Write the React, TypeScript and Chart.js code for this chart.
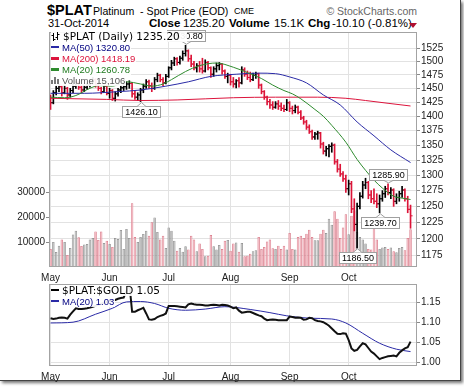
import React, { useEffect, useRef } from 'react';
import { Chart, registerables } from 'chart.js';

Chart.register(...registerables);

// ---------- data ----------
const monthIdx = [0, 21, 42, 64, 85, 106];
const monthLabels = ['May', 'Jun', 'Jul', 'Aug', 'Sep', 'Oct'];
const priceTicks = [1175, 1200, 1225, 1250, 1275, 1300, 1325, 1350, 1375, 1400, 1425, 1450, 1475, 1500, 1525];
const volumeTicks = [10000, 20000, 30000];
const ratioTicks = [1.0, 1.05, 1.1, 1.15];

const prevClose = 1436;
const opens = [
  1436, 1424, 1442, 1450, 1453, 1442, 1450, 1438, 1446, 1454,
  1460, 1452, 1447, 1452, 1456, 1462, 1466, 1456, 1450, 1444,
  1454, 1441, 1446, 1432, 1440, 1447, 1451, 1453, 1458, 1459,
  1440, 1434, 1438, 1447, 1454, 1462, 1455, 1450, 1466, 1474,
  1466, 1460, 1472, 1488, 1497, 1505, 1498, 1506, 1515, 1520,
  1505, 1495, 1488, 1492, 1486, 1482, 1498, 1488, 1476, 1486,
  1492, 1495, 1482, 1472, 1474, 1462, 1458, 1464, 1460, 1484,
  1476, 1470, 1466, 1474, 1477, 1456, 1444, 1434, 1426, 1420,
  1416, 1422, 1418, 1414, 1412, 1424, 1414, 1410, 1416, 1407,
  1397, 1390, 1381, 1373, 1364, 1369, 1371, 1352, 1340, 1344,
  1348, 1350, 1322, 1310, 1302, 1294, 1278, 1286, 1246, 1222,
  1250, 1266, 1284, 1288, 1268, 1262, 1258, 1254, 1262, 1270,
  1278, 1272, 1276, 1258, 1264, 1270, 1276, 1262, 1245.3,
];
const highs = [
  1438, 1446, 1456, 1458, 1455, 1456, 1452, 1450, 1458, 1464,
  1463, 1455, 1456, 1460, 1466, 1470, 1468, 1460, 1452, 1456,
  1456, 1450, 1448, 1444, 1450, 1455, 1458, 1462, 1464, 1461,
  1446, 1442, 1450, 1458, 1466, 1465, 1460, 1470, 1478, 1476,
  1470, 1476, 1490, 1502, 1508, 1507, 1510, 1520, 1530.8, 1522,
  1512, 1500, 1496, 1500, 1506, 1503, 1500, 1490, 1490, 1497,
  1498, 1496, 1484, 1478, 1476, 1470, 1466, 1470, 1490, 1488,
  1482, 1480, 1478, 1480, 1478, 1458, 1446, 1436, 1430, 1426,
  1426, 1428, 1424, 1420, 1430, 1426, 1418, 1420, 1418, 1410,
  1400, 1393, 1385, 1376, 1372, 1374, 1372, 1355, 1348, 1351,
  1354, 1352, 1326, 1318, 1306, 1300, 1292, 1290, 1262, 1255,
  1272, 1290, 1295, 1290, 1275, 1278, 1270, 1268, 1275, 1282,
  1285.9, 1280, 1278, 1270, 1274, 1282, 1278, 1266, 1252,
];
const lows = [
  1412, 1422, 1438, 1444, 1436, 1440, 1430, 1434, 1442, 1450,
  1448, 1442, 1444, 1448, 1452, 1458, 1452, 1446, 1440, 1442,
  1438, 1432, 1428, 1427, 1436, 1442, 1446, 1448, 1450, 1434,
  1430, 1428, 1426.1, 1442, 1450, 1450, 1444, 1448, 1462, 1462,
  1455, 1458, 1470, 1484, 1492, 1493, 1495, 1502, 1510, 1500,
  1490, 1484, 1480, 1480, 1478, 1480, 1484, 1470, 1472, 1480,
  1484, 1476, 1468, 1460, 1456, 1452, 1451, 1452, 1458, 1472,
  1466, 1462, 1464, 1468, 1450, 1440, 1430, 1420, 1414, 1412,
  1414, 1412, 1410, 1408, 1410, 1408, 1404, 1406, 1404, 1394,
  1386, 1377, 1370, 1360, 1360, 1360, 1345, 1335, 1332, 1330,
  1338, 1318, 1305, 1298, 1290, 1272, 1268, 1240, 1212, 1186.5,
  1246, 1263, 1278, 1262, 1256, 1254, 1248, 1239.7, 1258, 1264,
  1268, 1262, 1250, 1254, 1258, 1264, 1258, 1240, 1216,
];
const closes = [
  1424, 1442, 1450, 1453, 1442, 1450, 1438, 1446, 1454, 1460,
  1452, 1447, 1452, 1456, 1462, 1466, 1456, 1450, 1444, 1454,
  1441, 1446, 1432, 1440, 1447, 1451, 1453, 1458, 1459, 1440,
  1434, 1438, 1447, 1454, 1462, 1455, 1450, 1466, 1474, 1466,
  1460, 1472, 1488, 1497, 1505, 1498, 1506, 1515, 1520, 1505,
  1495, 1488, 1492, 1486, 1482, 1498, 1488, 1476, 1486, 1492,
  1495, 1482, 1472, 1474, 1462, 1458, 1464, 1460, 1484, 1476,
  1470, 1466, 1474, 1477, 1456, 1444, 1434, 1426, 1420, 1416,
  1422, 1418, 1414, 1412, 1424, 1414, 1410, 1416, 1407, 1397,
  1390, 1381, 1373, 1364, 1369, 1371, 1352, 1340, 1344, 1348,
  1350, 1322, 1310, 1302, 1294, 1278, 1286, 1246, 1222, 1250,
  1266, 1284, 1288, 1268, 1262, 1258, 1254, 1262, 1270, 1278,
  1272, 1276, 1258, 1264, 1270, 1276, 1262, 1245.3, 1235.2,
];
const volumes = [
  7200, 10000, 6000, 8500, 11000, 10000, 4800, 7600, 13000, 14500,
  11900, 8400, 9000, 9200, 11000, 11600, 14200, 10800, 14200, 9600,
  10500, 9200, 8000, 11600, 11200, 14800, 7200, 15200, 11600, 25500,
  12000, 10000, 12000, 13200, 14500, 12500, 17900, 19800, 14000, 11000,
  12500, 7600, 15800, 14500, 10500, 6500, 7600, 6100, 8300, 7000,
  12500, 11000, 6300, 9400, 7200, 4300, 4500, 12800, 8300, 7000,
  8800, 7200, 10500, 10800, 6500, 9400, 9800, 6100, 9600, 4300,
  4500, 5300, 6300, 6700, 12000, 7200, 8000, 10200, 11000, 7500,
  7200, 8500, 7200, 8500, 7000, 13600, 7200, 7000, 12000, 12500,
  11600, 13300, 14900, 12000, 10700, 10700, 13300, 14900, 13600, 19300,
  16900, 22300, 19300, 11600, 15800, 21100, 13100, 20500, 22700, 14000,
  12000, 11000, 9400, 7200, 7000, 15100, 11000, 7200, 7800, 8000,
  7200, 7800, 6300, 5900, 7600, 8000, 6700, 11600, 15106,
];

const ma20Idx = [0, 5, 9, 14, 17, 22, 27, 32, 36, 40, 43, 48, 53, 59, 65, 70, 75, 79, 83, 86, 89, 94, 97, 100, 105, 109, 112, 115, 118, 122, 125, 128];
const ma20Vals = [1434, 1433, 1437, 1450, 1455, 1454, 1462, 1458, 1454, 1458, 1466, 1481, 1492, 1497, 1489, 1479, 1468, 1456, 1446, 1440, 1431, 1412, 1400, 1384, 1355, 1326, 1308, 1292, 1279, 1266, 1263, 1260.78];
const ma50Idx = [0, 12, 24, 32, 41, 49, 57, 66, 74, 80, 85, 91, 97, 103, 109, 115, 121, 128];
const ma50Vals = [1441, 1441, 1444, 1447, 1454, 1462, 1472, 1476, 1478, 1477, 1471, 1460, 1438, 1420, 1390, 1366, 1342, 1320.8];
const ma200Idx = [0, 20, 32, 45, 55, 65, 80, 95, 105, 112, 120, 128];
const ma200Vals = [1432, 1430, 1428, 1429, 1431, 1433, 1434, 1434, 1432, 1428, 1423, 1418.19];

const ratio = [
  1.111, 1.109, 1.110, 1.112, 1.113, 1.112, 1.110, 1.120, 1.128, 1.136,
  1.134, 1.134, 1.135, 1.136, 1.138, 1.140, 1.142, 1.145, 1.147, 1.150,
  1.152, 1.154, 1.156, 1.157, 1.160, 1.162, 1.163, 1.180, 1.200, 1.127,
  1.127, 1.131, 1.134, 1.137, 1.123, 1.108, 1.107, 1.109, 1.114, 1.117,
  1.119, 1.123, 1.142, 1.142, 1.142, 1.141, 1.140, 1.139, 1.138, 1.146,
  1.148, 1.146, 1.145, 1.145, 1.144, 1.143, 1.143, 1.144, 1.145, 1.144,
  1.143, 1.145, 1.144, 1.143, 1.140, 1.136, 1.138, 1.130, 1.125, 1.126,
  1.127, 1.127, 1.124, 1.121, 1.118, 1.116, 1.110, 1.106, 1.107, 1.108,
  1.107, 1.106, 1.106, 1.106, 1.106, 1.115, 1.114, 1.112, 1.113, 1.112,
  1.107, 1.108, 1.112, 1.111, 1.106, 1.104, 1.103, 1.101, 1.097, 1.092,
  1.085, 1.078, 1.072, 1.071, 1.073, 1.072, 1.056, 1.035, 1.029, 1.031,
  1.040, 1.048, 1.045, 1.036, 1.027, 1.022, 1.015, 1.008, 1.011, 1.013,
  1.015, 1.016, 1.017, 1.015, 1.024, 1.030, 1.035, 1.038, 1.052,
];
const ratioMaIdx = [0, 8, 16, 22, 27, 32, 37, 42, 48, 55, 62, 71, 78, 84, 92, 100, 105, 111, 117, 123, 128];
const ratioMaVals = [1.099, 1.101, 1.121, 1.136, 1.152, 1.153, 1.148, 1.136, 1.131, 1.134, 1.140, 1.133, 1.125, 1.117, 1.111, 1.109, 1.099, 1.073, 1.048, 1.033, 1.027];

// callouts: [index, 'low' | 'high']
const calloutIdx = [48, 32, 109, 117, 120];
const calloutKind = ['high', 'low', 'low', 'low', 'high'];

// ---------- styles ----------
const FONT = '"Liberation Sans", Arial, sans-serif';
const WIDE = '"DejaVu Sans", Verdana, sans-serif';
const UP = '#000000';
const DOWN = '#dc1438';
const VOL_UP = '#b9b9b9';
const VOL_UP_BORDER = '#8c8c8c';
const VOL_DOWN = '#f2b3bc';
const VOL_DOWN_BORDER = '#d77383';
const MA50_C = '#2a2aa6';
const MA200_C = '#dc143c';
const MA20_C = '#2e8b2e';
const GRID = '#e2e2e2';

const xMin = -0.55;
const xMax = 130.3;

const isDown = closes.map((c, i) => c < (i === 0 ? prevClose : closes[i - 1]));

const framePlugin = {
  id: 'frame',
  afterDraw(chart: any) {
    const { ctx, chartArea } = chart;
    ctx.save();
    ctx.strokeStyle = '#a3a3a3';
    ctx.lineWidth = 1;
    ctx.strokeRect(chartArea.left + 0.5, chartArea.top + 0.5, chartArea.right - chartArea.left - 1, chartArea.bottom - chartArea.top - 1);
    ctx.restore();
  },
};

const calloutPlugin = {
  id: 'callouts',
  afterDatasetsDraw(chart: any) {
    const { ctx } = chart;
    const xs = chart.scales.x;
    const ys = chart.scales.y;
    ctx.save();
    ctx.font = '9px ' + FONT;
    calloutIdx.forEach((idx, k) => {
      const low = calloutKind[k] === 'low';
      const v = low ? lows[idx] : highs[idx];
      const px = Math.round(xs.getPixelForValue(idx));
      const py = ys.getPixelForValue(v);
      const text = v.toFixed(2);
      const w = Math.round(ctx.measureText(text).width) + 5;
      const h = 11;
      const gap = 4;
      const bx = Math.round(px - w / 2) + 0.5;
      const by = low ? Math.round(py + gap) + 0.5 : Math.round(py - gap - h) + 0.5;
      const edge = low ? by : by + h;
      const tip = low ? py + 1 : py - 1;
      ctx.fillStyle = '#ffffff';
      ctx.strokeStyle = '#a0a0a0';
      ctx.lineWidth = 1;
      ctx.fillRect(bx, by, w, h);
      ctx.strokeRect(bx, by, w, h);
      ctx.beginPath();
      ctx.moveTo(px - 4, edge);
      ctx.lineTo(px + 0.5, tip);
      ctx.lineTo(px + 5, edge);
      ctx.closePath();
      ctx.fill();
      ctx.beginPath();
      ctx.moveTo(px - 4, edge);
      ctx.lineTo(px + 0.5, tip);
      ctx.lineTo(px + 5, edge);
      ctx.stroke();
      ctx.fillStyle = '#000';
      ctx.textAlign = 'center';
      ctx.textBaseline = 'middle';
      ctx.fillText(text, bx + w / 2, by + h / 2 + 0.5);
    });
    ctx.restore();
  },
};

const xAxis = (height: number) => ({
  type: 'linear' as const,
  position: 'bottom' as const,
  min: xMin,
  max: xMax,
  offset: false,
  grid: { color: GRID, drawTicks: false, offset: false },
  border: { display: false },
  ticks: {
    autoSkip: false,
    maxRotation: 0,
    padding: 5,
    color: '#222',
    font: { size: 10, family: FONT },
    callback: (v: any) => {
      const k = monthIdx.indexOf(Number(v));
      return k >= 0 ? monthLabels[k] : '';
    },
  },
  afterBuildTicks: (s: any) => {
    s.ticks = monthIdx.map((v) => ({ value: v }));
  },
  afterFit: (s: any) => {
    s.height = height;
  },
});

export default function App() {
  const mainRef = useRef<HTMLCanvasElement>(null);
  const ratioRef = useRef<HTMLCanvasElement>(null);

  useEffect(() => {
    const xy = (idx: number[], vals: number[]) => idx.map((x, k) => ({ x, y: vals[k] }));

    const main = new Chart(mainRef.current as HTMLCanvasElement, {
      type: 'bar',
      data: {
        datasets: [
          {
            type: 'line',
            data: xy(ma20Idx, ma20Vals),
            yAxisID: 'y',
            borderColor: MA20_C,
            borderWidth: 1,
            pointRadius: 0,
            cubicInterpolationMode: 'monotone',
            order: 1,
          } as any,
          {
            type: 'line',
            data: xy(ma50Idx, ma50Vals),
            yAxisID: 'y',
            borderColor: MA50_C,
            borderWidth: 1,
            pointRadius: 0,
            cubicInterpolationMode: 'monotone',
            order: 1,
          } as any,
          {
            type: 'line',
            data: xy(ma200Idx, ma200Vals),
            yAxisID: 'y',
            borderColor: MA200_C,
            borderWidth: 1,
            pointRadius: 0,
            cubicInterpolationMode: 'monotone',
            order: 1,
          } as any,
          {
            type: 'scatter',
            data: opens.map((o, i) => ({ x: i - 0.36, y: o })),
            yAxisID: 'y',
            pointStyle: 'line',
            pointRadius: 1.05,
            pointBorderWidth: 1,
            pointBorderColor: isDown.map((d) => (d ? DOWN : UP)),
            pointBackgroundColor: isDown.map((d) => (d ? DOWN : UP)),
            order: 2,
          } as any,
          {
            type: 'scatter',
            data: closes.map((c, i) => ({ x: i + 0.36, y: c })),
            yAxisID: 'y',
            pointStyle: 'line',
            pointRadius: 1.05,
            pointBorderWidth: 1,
            pointBorderColor: isDown.map((d) => (d ? DOWN : UP)),
            pointBackgroundColor: isDown.map((d) => (d ? DOWN : UP)),
            order: 2,
          } as any,
          {
            type: 'bar',
            data: highs.map((h, i) => ({ x: i, y: [lows[i], h] })),
            yAxisID: 'y',
            grouped: false,
            barThickness: 1,
            backgroundColor: isDown.map((d) => (d ? DOWN : UP)),
            borderWidth: 0,
            order: 3,
          } as any,
          {
            type: 'bar',
            data: volumes.map((v, i) => ({ x: i, y: v })),
            yAxisID: 'yv',
            grouped: false,
            barPercentage: 0.88,
            categoryPercentage: 1,
            backgroundColor: isDown.map((d) => (d ? VOL_DOWN : VOL_UP)),
            borderColor: isDown.map((d) => (d ? VOL_DOWN_BORDER : VOL_UP_BORDER)),
            borderWidth: 0.8,
            order: 10,
          } as any,
        ],
      },
      options: {
        responsive: false,
        animation: false,
        devicePixelRatio: 1,
        events: [],
        layout: { padding: { top: 32, left: 0, right: 0, bottom: 0 } },
        plugins: { legend: { display: false }, tooltip: { enabled: false } },
        scales: {
          x: xAxis(18) as any,
          y: {
            type: 'logarithmic',
            position: 'right',
            min: 1158.2,
            max: 1556.5,
            bounds: 'data',
            grid: { color: GRID, tickLength: 3, tickColor: '#8a8a8a' },
            border: { display: false },
            ticks: {
              padding: 1,
              color: '#222',
              font: { size: 10, family: FONT },
              callback: (v: any) => String(v),
            },
            afterBuildTicks: (s: any) => {
              s.ticks = priceTicks.map((v) => ({ value: v }));
            },
            afterFit: (s: any) => {
              s.width = 47;
            },
          } as any,
          yv: {
            type: 'linear',
            position: 'left',
            min: 0,
            max: 94000,
            bounds: 'data',
            grid: { drawOnChartArea: false, tickLength: 3, tickColor: '#8a8a8a' },
            border: { display: false },
            ticks: {
              padding: 1,
              color: '#222',
              font: { size: 10, family: FONT },
              callback: (v: any) => String(v),
            },
            afterBuildTicks: (s: any) => {
              s.ticks = volumeTicks.map((v) => ({ value: v }));
            },
            afterFit: (s: any) => {
              s.width = 49;
            },
          } as any,
        },
      },
      plugins: [framePlugin, calloutPlugin],
    });

    const ratioChart = new Chart(ratioRef.current as HTMLCanvasElement, {
      type: 'line',
      data: {
        datasets: [
          {
            data: ratio.map((r, i) => ({ x: i, y: r })),
            borderColor: '#111111',
            borderWidth: 2,
            pointRadius: 0,
            tension: 0,
            order: 1,
          },
          {
            data: xy(ratioMaIdx, ratioMaVals),
            borderColor: MA50_C,
            borderWidth: 1,
            pointRadius: 0,
            cubicInterpolationMode: 'monotone',
            order: 2,
          } as any,
        ],
      },
      options: {
        responsive: false,
        animation: false,
        devicePixelRatio: 1,
        events: [],
        layout: { padding: { top: 14, left: 49, right: 0, bottom: 0 } },
        plugins: { legend: { display: false }, tooltip: { enabled: false } },
        scales: {
          x: xAxis(21) as any,
          y: {
            type: 'linear',
            position: 'right',
            min: 0.9907,
            max: 1.1971,
            bounds: 'data',
            grid: { color: GRID, tickLength: 3, tickColor: '#8a8a8a' },
            border: { display: false },
            ticks: {
              padding: 1,
              color: '#222',
              font: { size: 10, family: FONT },
              callback: (v: any) => Number(v).toFixed(2),
            },
            afterBuildTicks: (s: any) => {
              s.ticks = ratioTicks.map((v) => ({ value: v }));
            },
            afterFit: (s: any) => {
              s.width = 47;
            },
          } as any,
        },
      },
      plugins: [framePlugin],
    });

    return () => {
      main.destroy();
      ratioChart.destroy();
    };
  }, []);

  const abs = (left: number, top: number, extra: any = {}) => ({
    position: 'absolute' as const,
    left,
    top,
    whiteSpace: 'pre' as const,
    fontFamily: FONT,
    ...extra,
  });

  const legendRow = (
    top: number,
    color: string,
    text: string,
    size: number,
    icon: any,
    family: string = FONT,
    padRight: number = 1
  ) => (
    <div
      style={abs(51, top, {
        fontSize: size,
        fontFamily: family,
        lineHeight: '11px',
        color,
        background: 'rgba(255,255,255,0.92)',
        paddingRight: padRight,
        display: 'flex',
        alignItems: 'center',
      })}
    >
      {icon}
      <span>{text}</span>
    </div>
  );

  const dash = (color: string) => (
    <span style={{ display: 'inline-block', width: 8, height: 2.5, background: color, marginRight: 3 }} />
  );

  const ohlcIcon = (
    <svg width="9" height="10" style={{ marginRight: 3 }}>
      <path d="M2.5 1V9M0.5 3.5H2.5M2.5 7.5H4.5M6.5 0V8M4.5 5.5H6.5M6.5 2.5H8.5" stroke="#000" strokeWidth="1" fill="none" />
    </svg>
  );
  const volIcon = (
    <svg width="9" height="8" style={{ marginRight: 2 }}>
      <rect x="0" y="4" width="2" height="4" fill="#777" />
      <rect x="3" y="1" width="2" height="7" fill="#777" />
      <rect x="6" y="3" width="2" height="5" fill="#777" />
    </svg>
  );

  return (
    <div style={{ position: 'absolute', left: 0, top: 0, width: 464, height: 387, background: '#fff', overflow: 'hidden' }}>
      <div
        style={{
          position: 'absolute',
          left: 0,
          top: 0,
          width: 460,
          height: 380,
          background: '#fff',
          borderRight: '1px solid #444',
          borderBottom: '1px solid #444',
          boxShadow: '2px 2px 3px rgba(0,0,0,0.55)',
        }}
      />
      {/* header */}
      <div style={abs(47, 2, { fontSize: 14.5, fontWeight: 'bold', lineHeight: '17px', color: '#000' })}>$PLAT</div>
      <div style={abs(93, 4.5, { fontSize: 10.6, lineHeight: '12px', color: '#000' })}>Platinum  - Spot Price (EOD)</div>
      <div style={abs(234, 6, { fontSize: 9, lineHeight: '10px', color: '#000' })}>CME</div>
      <div style={abs(300, 4.5, { fontSize: 10.5, lineHeight: '12px', color: '#666', width: 117, textAlign: 'right' })}>© StockCharts.com</div>
      <div style={abs(48, 16.5, { fontSize: 11, lineHeight: '13px', color: '#000' })}>31-Oct-2014</div>
      <div style={abs(149, 16.5, { fontSize: 11.5, lineHeight: '13px', color: '#000', fontWeight: 'bold' })}>Close</div>
      <div style={abs(183, 16.5, { fontSize: 11.5, lineHeight: '13px', color: '#000' })}>1235.20</div>
      <div style={abs(229, 16.5, { fontSize: 11.5, lineHeight: '13px', color: '#000', fontWeight: 'bold' })}>Volume</div>
      <div style={abs(274, 16.5, { fontSize: 11.5, lineHeight: '13px', color: '#000' })}>15.1K</div>
      <div style={abs(308, 16.5, { fontSize: 11.5, lineHeight: '13px', color: '#000', fontWeight: 'bold' })}>Chg</div>
      <div style={abs(332, 16.5, { fontSize: 11.5, lineHeight: '13px', color: '#000' })}>-10.10 (-0.81%)</div>
      <div
        style={{
          position: 'absolute',
          left: 409,
          top: 23,
          width: 0,
          height: 0,
          borderLeft: '4px solid transparent',
          borderRight: '4px solid transparent',
          borderTop: '5px solid #b01030',
        }}
      />

      <canvas ref={mainRef} width={464} height={285} style={{ position: 'absolute', left: 0, top: 0, width: 464, height: 285 }} />
      <canvas ref={ratioRef} width={464} height={117} style={{ position: 'absolute', left: 0, top: 270, width: 464, height: 117 }} />

      {/* main legend */}
      {legendRow(31, '#000', '$PLAT (Daily) 1235.20', 10.5, ohlcIcon, WIDE, 7)}
      {legendRow(41.5, '#000080', 'MA(50) 1320.80', 9.5, dash(MA50_C))}
      {legendRow(53, '#dc143c', 'MA(200) 1418.19', 9.5, dash(MA200_C))}
      {legendRow(64.2, '#1f7a1f', 'MA(20) 1260.78', 9.5, dash(MA20_C))}
      {legendRow(74.8, '#555', 'Volume 15,106', 9.5, volIcon)}

      {/* ratio legend */}
      {legendRow(284.5, '#000', '$PLAT:$GOLD 1.05', 10.5, dash('#000'), WIDE)}
      {legendRow(295.5, '#000080', 'MA(20) 1.03', 9.5, dash(MA50_C))}
    </div>
  );
}
